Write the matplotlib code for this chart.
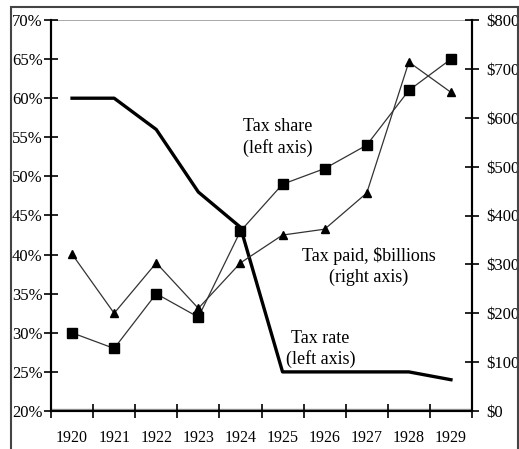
import matplotlib
matplotlib.use("Agg")
import matplotlib.pyplot as plt
from matplotlib.patches import Rectangle
import numpy as np

plt.rcParams['font.family'] = ['Liberation Serif', 'DejaVu Serif']

# Data
years = ["1920", "1921", "1922", "1923", "1924", "1925", "1926", "1927", "1928", "1929"]
tax_rate = [60, 60, 56, 48, 43.5, 25, 25, 25, 25, 24]          # % (left axis)
tax_share = [30, 28, 35, 32, 43, 49, 51, 54, 61, 65]           # % (left axis)
tax_paid = [321, 200, 303, 210, 303, 360, 372, 446, 714, 652]  # $billions (right axis)

x = np.arange(len(years))

fig = plt.figure(figsize=(5.19, 4.49), dpi=100)
ax = fig.add_axes([51/519, 1 - 411/449, (472-51)/519, (411-20)/449])
ax2 = ax.twinx()

# lines
ax.plot(x, tax_rate, color='black', lw=2.4, zorder=3)
ax.plot(x, tax_share, color='#333333', lw=0.9, marker='s', ms=7.5,
        mfc='black', mec='black', zorder=4)
ax2.plot(x, tax_paid, color='#333333', lw=0.9, marker='^', ms=6,
         mfc='black', mec='black', zorder=4)

# left axis
ax.set_xlim(-0.5, 9.5)
ax.set_ylim(20, 70)
ax.set_yticks(np.arange(20, 71, 5))
ax.set_yticklabels([f"{v}%" for v in range(20, 71, 5)], fontsize=12)
ax.tick_params(axis='y', direction='inout', length=10, width=1.2, pad=1)

# right axis
ax2.set_ylim(0, 800)
ax2.set_yticks(np.arange(0, 801, 100))
ax2.set_yticklabels([f"${v}" for v in range(0, 801, 100)], fontsize=12)
ax2.tick_params(axis='y', direction='inout', length=10, width=1.2, pad=5)

# x axis: ticks on category boundaries, labels centered
ax.set_xticks(np.arange(-0.5, 10, 1))
ax.set_xticklabels([])
ax.set_xticks(x, minor=True)
ax.set_xticklabels(years, minor=True, fontsize=11.5)
ax.tick_params(axis='x', which='major', direction='inout', length=10, width=1.2)
ax.tick_params(axis='x', which='minor', length=0, pad=14)

# spines / gridlines
for a in (ax, ax2):
    a.spines['top'].set_visible(False)
    a.spines['left'].set_linewidth(1.5)
    a.spines['right'].set_linewidth(1.5)
    a.spines['bottom'].set_linewidth(1.5)
ax.axhline(70, color='#999999', lw=1.2, zorder=1)
ax.axhline(20.25, color='#999999', lw=1.0, zorder=1)

# annotations
ax.text(4.06, 55, "Tax share\n(left axis)", fontsize=13, ha='left', va='center',
        linespacing=1.25)
ax.text(7.05, 38.5, "Tax paid, $billions\n(right axis)", fontsize=13, ha='center',
        va='center', linespacing=1.25)
ax.text(5.9, 27.9, "Tax rate\n(left axis)", fontsize=13, ha='center', va='center',
        linespacing=1.25)

# outer frame
fig.patches.append(Rectangle((11/519, -0.05), (518-11)/519, 1.05 - 7/449,
                             transform=fig.transFigure, fill=False,
                             edgecolor='#444444', lw=1.5))

fig.savefig("out.png", dpi=100)
